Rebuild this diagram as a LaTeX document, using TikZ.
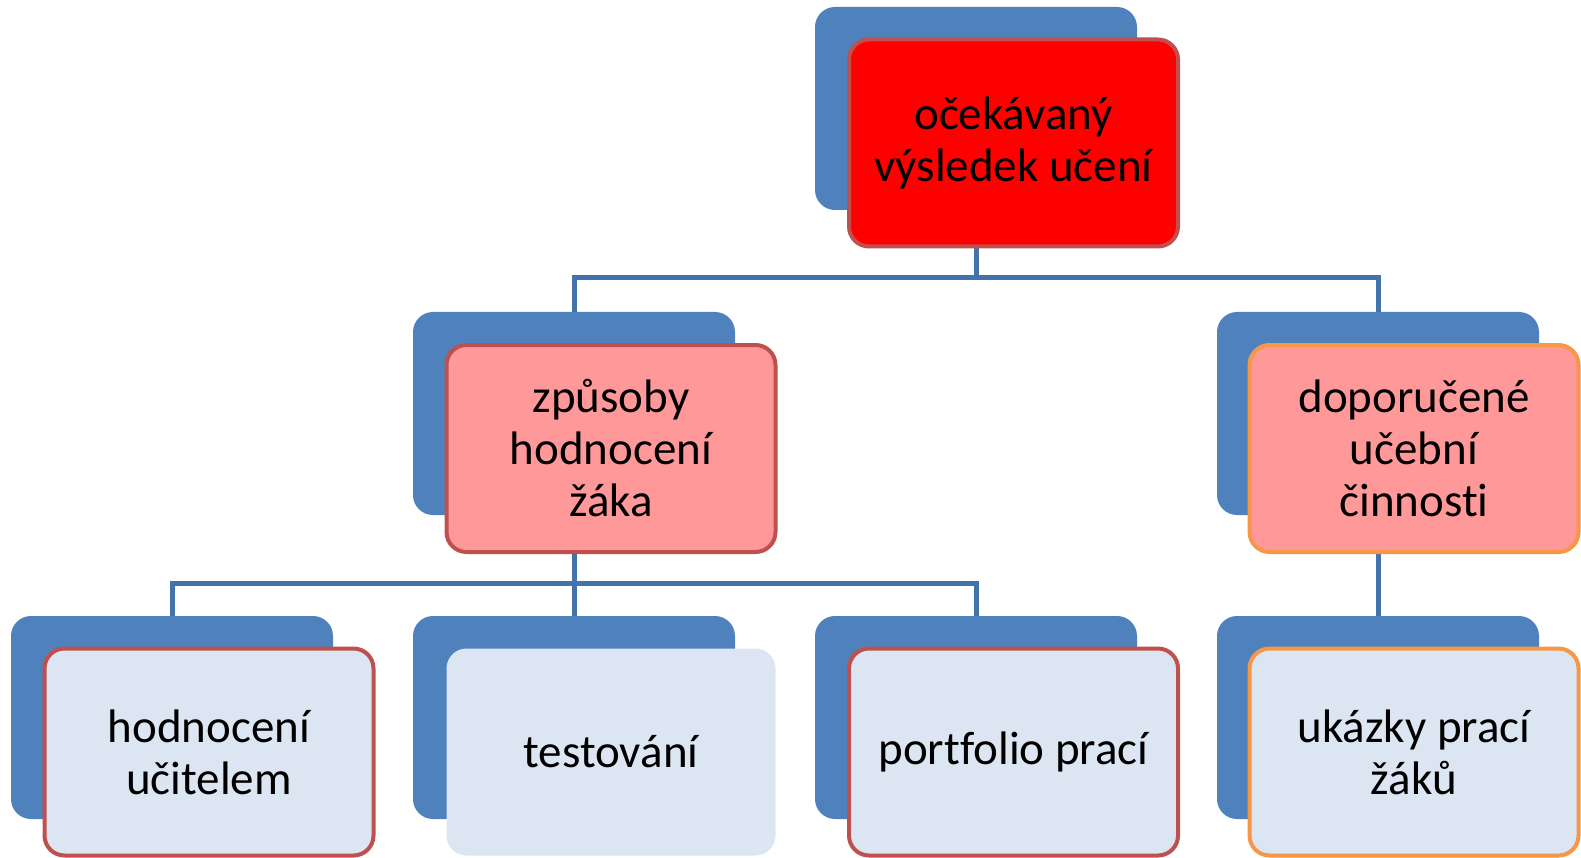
\documentclass[tikz,border=0pt]{standalone}
\usepackage{fontspec}
\setmainfont[Ligatures=NoCommon]{Carlito}
\usetikzlibrary{calc,backgrounds}
\definecolor{backblue}{RGB}{79,129,189}
\definecolor{linkblue}{RGB}{68,114,170}
\definecolor{edgered}{RGB}{192,80,77}
\definecolor{edgeorange}{RGB}{247,150,70}
\definecolor{pinkfill}{RGB}{255,153,153}
\definecolor{palefill}{RGB}{220,230,242}
\tikzset{
  backbox/.style={fill=backblue, rounded corners=20pt, minimum width=322pt,
    minimum height=203pt, inner sep=0pt, outer sep=0pt},
  frontbox/.style={rounded corners=20pt, minimum width=329pt, minimum height=207pt,
    line width=4pt, align=center, inner sep=0pt, outer sep=0pt,
    font=\fontsize{47}{52}\selectfont, text=black},
  link/.style={draw=linkblue, line width=5pt}
}

\begin{document}
\begin{tikzpicture}[y=1pt, x=1pt, yscale=-1]
  \useasboundingbox (0,0) rectangle (1581,858);
  % boxes
  \node[backbox] (goalback) at (976,108.5) {};
  \node[frontbox, draw=edgered, fill=red] (goal) at (1013.5,143)
    {očekávaný\\výsledek učení};
  \node[backbox] (evalback) at (574,413.5) {};
  \node[frontbox, draw=edgered, fill=pinkfill] (eval) at (611,448.5)
    {způsoby\\hodnocení\\žáka};
  \node[backbox] (actback) at (1378,413.5) {};
  \node[frontbox, draw=edgeorange, fill=pinkfill] (act) at (1414,448.5)
    {doporučené\\učební\\činnosti};
  \node[backbox] (teachback) at (172,717.5) {};
  \node[frontbox, draw=edgered, fill=palefill] (teach) at (209,752)
    {hodnocení\\učitelem};
  \node[backbox] (testback) at (574,717.5) {};
  \node[frontbox, fill=palefill] (test) at (611,752) {testování};
  \node[backbox] (portback) at (976,717.5) {};
  \node[frontbox, draw=edgered, fill=palefill] (port) at (1013.5,752)
    {portfolio prací};
  \node[backbox] (sampleback) at (1378,717.5) {};
  \node[frontbox, draw=edgeorange, fill=palefill] (sample) at (1414,752)
    {ukázky prací\\žáků};
  \coordinate (topbar) at (goalback.center |- 0,278);
  \coordinate (midbar) at (evalback.center |- 0,583);
  % links
  \begin{scope}[on background layer]
    \draw[link] (goalback |- goal.south) -- (topbar);
    \draw[link] (evalback.north) |- (topbar) -| (actback.north);
    \draw[link] (evalback |- eval.south) -- (testback.north);
    \draw[link] (teachback.north) |- (midbar) -| (portback.north);
    \draw[link] (actback |- act.south) -- (sampleback.north);
  \end{scope}
\end{tikzpicture}
\end{document}
